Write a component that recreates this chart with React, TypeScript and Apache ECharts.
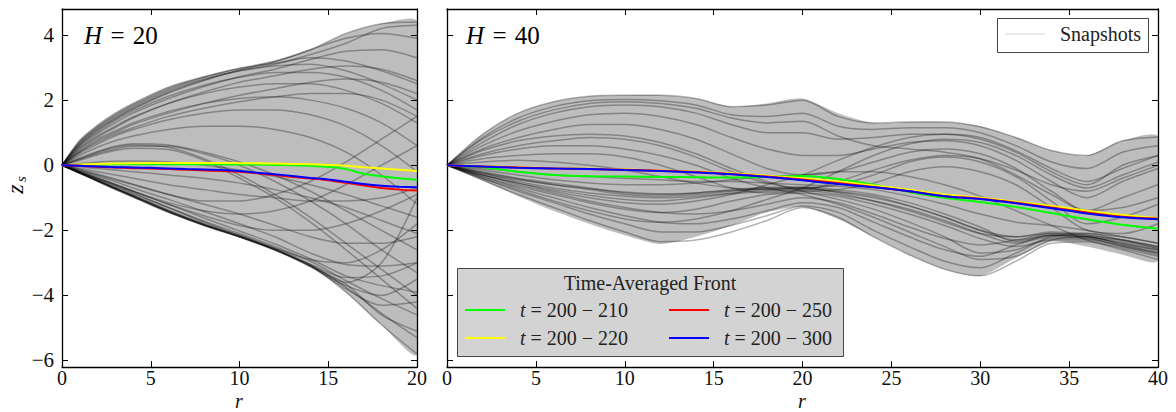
import React, { useEffect, useRef } from 'react';
import * as echarts from 'echarts';

// ---------- data ----------
const R_LEFT_SNAP = [0, 1, 2, 3, 4, 6, 8, 10, 12, 14, 16, 18, 20];
const SNAP_LEFT: number[][] = [
  [0, 0.77, 1.23, 1.6, 1.9, 2.4, 2.72, 2.97, 3.13, 3.3, 3.2, 2.9, 2.5],
  [0, 0.72, 1.18, 1.55, 1.85, 2.35, 2.7, 2.98, 3.2, 3.55, 4.05, 4.35, 4.4],
  [0, 0.7, 1.15, 1.5, 1.8, 2.3, 2.65, 2.9, 3.05, 3.1, 2.9, 2.5, 2.0],
  [0, 0.62, 1.02, 1.37, 1.66, 2.12, 2.46, 2.7, 2.85, 2.85, 2.7, 2.3, 1.7],
  [0, 0.53, 0.9, 1.2, 1.48, 1.9, 2.2, 2.4, 2.5, 2.5, 2.3, 1.9, 1.3],
  [0, 0.45, 0.8, 1.05, 1.3, 1.65, 1.9, 2.05, 2.1, 2.0, 1.75, 1.3, 0.6],
  [0, 0.36, 0.65, 0.9, 1.1, 1.4, 1.6, 1.7, 1.7, 1.55, 1.2, 0.6, -0.2],
  [0, 0.3, 0.55, 0.75, 0.9, 1.1, 1.2, 1.2, 1.1, 0.85, 0.4, -0.3, -1.2],
  [0, 0.62, 1.07, 1.42, 1.72, 2.22, 2.6, 2.93, 3.18, 3.55, 3.9, 4.05, 3.9],
  [0, 0.57, 0.97, 1.3, 1.6, 2.05, 2.42, 2.72, 2.95, 3.25, 3.5, 3.55, 3.3],
  [0, 0.5, 0.86, 1.16, 1.45, 1.9, 2.25, 2.55, 2.75, 2.95, 3.05, 2.95, 2.6],
  [0, 0.42, 0.75, 1.0, 1.25, 1.6, 1.9, 2.15, 2.35, 2.55, 2.65, 2.55, 2.2],
  [0, 0.66, 1.1, 1.45, 1.75, 2.25, 2.62, 2.9, 3.1, 3.4, 3.75, 4.2, 4.3],
  [0, 0.4, 0.7, 0.95, 1.15, 1.5, 1.75, 1.95, 2.1, 2.2, 2.2, 2.0, 1.5],
  [0, 0.2, 0.4, 0.55, 0.62, 0.55, 0.2, -0.3, -0.9, -1.6, -2.4, -3.2, -4.0],
  [0, 0.15, 0.32, 0.45, 0.52, 0.48, 0.15, -0.4, -1.0, -1.75, -2.6, -3.5, -4.4],
  [0, 0.18, 0.36, 0.5, 0.58, 0.58, 0.35, 0, -0.5, -1.1, -1.8, -2.6, -3.3],
  [0, 0.22, 0.42, 0.58, 0.66, 0.62, 0.4, 0.1, -0.3, -0.8, -1.4, -2.0, -2.6],
  [0, 0.05, 0.1, 0.12, 0.13, 0.1, 0, -0.15, -0.35, -0.6, -0.9, -1.25, -1.6],
  [0, -0.05, -0.1, -0.15, -0.2, -0.3, -0.4, -0.55, -0.75, -1.0, -1.3, -1.7, -2.1],
  [0, -0.25, -0.5, -0.75, -0.98, -1.45, -1.85, -2.2, -2.6, -3.1, -3.9, -4.9, -5.8],
  [0, -0.23, -0.46, -0.7, -0.92, -1.38, -1.8, -2.15, -2.55, -3.05, -3.75, -4.55, -5.3],
  [0, -0.21, -0.42, -0.63, -0.85, -1.3, -1.72, -2.1, -2.5, -2.95, -3.55, -4.1, -4.6],
  [0, -0.19, -0.38, -0.58, -0.8, -1.2, -1.62, -2.02, -2.42, -2.88, -3.4, -3.7, -3.9],
  [0, -0.16, -0.33, -0.5, -0.7, -1.05, -1.42, -1.8, -2.2, -2.7, -3.05, -3.1, -3.0],
  [0, -0.13, -0.27, -0.42, -0.58, -0.9, -1.2, -1.5, -1.85, -2.2, -2.4, -2.4, -2.2],
  [0, -0.1, -0.2, -0.3, -0.4, -0.6, -0.75, -0.9, -1.0, -1.1, -1.1, -1.0, -0.7],
  [0, -0.15, -0.3, -0.45, -0.6, -0.9, -1.1, -1.1, -0.9, -0.5, 0.1, 0.8, 1.5],
  [0, -0.2, -0.4, -0.6, -0.8, -1.15, -1.4, -1.5, -1.4, -1.1, -0.6, 0.0, 0.6],
  [0, -0.2, -0.4, -0.6, -0.8, -1.2, -1.55, -1.85, -2.0, -2.0, -1.8, -1.4, -0.9],
  [0, -0.22, -0.44, -0.66, -0.88, -1.3, -1.75, -2.15, -2.55, -2.9, -3.0, -2.6, -1.8],
  [0, -0.24, -0.48, -0.72, -0.95, -1.42, -1.83, -2.2, -2.6, -3.05, -3.45, -3.4, -3.0],
  [0, -0.24, -0.48, -0.72, -0.96, -1.43, -1.84, -2.2, -2.6, -3.1, -3.8, -4.3, -4.2],
  [0, -0.23, -0.46, -0.7, -0.93, -1.4, -1.82, -2.18, -2.58, -3.08, -3.6, -3.0, -1.0],
  [0, -0.245, -0.49, -0.73, -0.97, -1.44, -1.85, -2.21, -2.61, -3.12, -3.7, -4.0, -3.5],
  [0, -0.235, -0.47, -0.71, -0.94, -1.41, -1.82, -2.19, -2.59, -3.1, -3.65, -4.6, -5.1],
];
const ENV_LEFT_UPPER = [0, 0.77, 1.23, 1.6, 1.9, 2.4, 2.72, 2.97, 3.2, 3.55, 4.05, 4.35, 4.4];
const ENV_LEFT_LOWER = [0, -0.25, -0.5, -0.75, -0.98, -1.45, -1.85, -2.2, -2.6, -3.1, -3.9, -4.9, -5.8];

const R_RIGHT_SNAP = [0, 2, 4, 6, 8, 10, 12, 14, 16, 18, 20, 22, 24, 26, 28, 30, 32, 34, 36, 38, 40];
const SNAP_RIGHT: number[][] = [
  [0, 0.95, 1.6, 1.95, 2.12, 2.15, 2.15, 2.05, 1.8, 1.85, 2.0, 1.5, 1.3, 1.33, 1.33, 1.18, 0.85, 0.45, 0.3, 0.75, 0.87],
  [0, 0.85, 1.45, 1.8, 1.98, 2.02, 1.98, 1.85, 1.55, 1.5, 1.6, 1.2, 1.1, 1.15, 1.15, 1.0, 0.6, 0.1, -0.1, 0.4, 0.6],
  [0, 0.7, 1.25, 1.6, 1.8, 1.85, 1.8, 1.6, 1.25, 1.0, 1.0, 0.8, 0.85, 0.95, 0.95, 0.8, 0.4, -0.2, -0.6, 0.0, 0.3],
  [0, 0.6, 1.05, 1.35, 1.55, 1.6, 1.5, 1.25, 0.85, 0.5, 0.3, 0.3, 0.5, 0.7, 0.75, 0.6, 0.15, -0.5, -1.0, -0.5, -0.1],
  [0, 0.5, 0.85, 1.1, 1.25, 1.25, 1.1, 0.8, 0.35, -0.1, -0.3, -0.2, 0.1, 0.4, 0.5, 0.35, -0.1, -0.8, -1.4, -1.0, -0.6],
  [0, 0.35, 0.6, 0.75, 0.85, 0.8, 0.6, 0.25, -0.2, -0.55, -0.7, -0.6, -0.3, 0.1, 0.25, 0.1, -0.35, -1.1, -1.8, -1.6, -1.2],
  [0, 0.2, 0.3, 0.35, 0.35, 0.25, 0.0, -0.35, -0.7, -0.85, -0.8, -0.75, -0.55, -0.2, -0.05, -0.2, -0.6, -1.3, -2.0, -2.1, -1.8],
  [0, -0.45, -0.9, -1.3, -1.7, -2.05, -2.35, -2.3, -2.05, -1.7, -1.3, -1.6, -2.2, -2.75, -3.2, -3.4, -2.95, -2.4, -2.35, -2.6, -2.9],
  [0, -0.4, -0.8, -1.15, -1.5, -1.8, -2.05, -2.05, -1.85, -1.55, -1.25, -1.45, -2.0, -2.5, -2.95, -3.15, -2.7, -2.25, -2.25, -2.5, -2.75],
  [0, -0.35, -0.7, -1.0, -1.3, -1.55, -1.75, -1.8, -1.65, -1.4, -1.15, -1.3, -1.75, -2.2, -2.6, -2.8, -2.45, -2.15, -2.2, -2.4, -2.6],
  [0, -0.3, -0.6, -0.85, -1.1, -1.3, -1.45, -1.5, -1.4, -1.2, -1.0, -1.15, -1.5, -1.9, -2.25, -2.45, -2.3, -2.1, -2.15, -2.3, -2.5],
  [0, -0.25, -0.5, -0.7, -0.85, -0.95, -1.0, -0.95, -0.85, -0.75, -0.7, -0.85, -1.1, -1.4, -1.75, -2.1, -2.2, -2.05, -2.1, -2.2, -2.4],
  [0, -0.2, -0.4, -0.55, -0.7, -0.85, -0.9, -0.85, -0.75, -0.68, -0.67, -0.75, -0.9, -1.15, -1.5, -1.9, -2.35, -2.15, -2.2, -2.35, -2.55],
  [0, -0.22, -0.42, -0.6, -0.75, -0.9, -0.95, -0.9, -0.8, -0.7, -0.7, -0.8, -0.95, -1.25, -1.6, -2.0, -2.2, -2.1, -2.15, -2.3, -2.5],
  [0, -0.1, -0.2, -0.3, -0.35, -0.4, -0.45, -0.5, -0.5, -0.55, -0.6, -0.65, -0.75, -0.95, -1.2, -1.5, -1.75, -1.85, -2.0, -2.2, -2.4],
  [0, -0.3, -0.55, -0.8, -1.0, -1.15, -1.2, -1.1, -0.9, -0.6, -0.3, 0.15, 0.55, 0.85, 0.95, 0.85, 0.45, -0.1, -0.5, -0.1, 0.3],
  [0, -0.4, -0.75, -1.1, -1.4, -1.65, -1.75, -1.65, -1.4, -1.05, -0.7, -0.2, 0.3, 0.65, 0.8, 0.7, 0.3, -0.3, -0.7, -0.3, 0.1],
  [0, 0.3, 0.5, 0.6, 0.6, 0.5, 0.3, 0.0, -0.4, -0.7, -0.9, -1.2, -1.6, -2.05, -2.5, -2.9, -2.8, -2.3, -2.2, -2.45, -2.7],
  [0, 0.45, 0.75, 0.9, 0.95, 0.9, 0.7, 0.35, -0.1, -0.5, -0.8, -1.05, -1.35, -1.75, -2.2, -2.7, -2.6, -2.2, -2.1, -2.3, -2.55],
  [0, 0.8, 1.35, 1.7, 1.9, 1.95, 1.9, 1.75, 1.45, 1.3, 1.35, 0.9, 0.6, 0.5, 0.4, 0.2, -0.3, -0.9, -1.4, -1.3, -1.0],
  [0, -0.15, -0.3, -0.45, -0.55, -0.6, -0.6, -0.55, -0.45, -0.35, -0.3, -0.2, -0.2, -0.35, -0.6, -0.95, -1.4, -1.85, -2.3, -2.55, -2.8],
  [0, 0.1, 0.15, 0.1, 0.0, -0.15, -0.35, -0.55, -0.7, -0.75, -0.75, -0.5, -0.15, 0.15, 0.3, 0.2, -0.15, -0.6, -0.8, -0.4, 0.0],
  [0, -0.25, -0.45, -0.6, -0.72, -0.82, -0.88, -0.85, -0.78, -0.72, -0.72, -0.82, -1.0, -1.25, -1.6, -2.0, -2.3, -2.15, -2.2, -2.4, -2.6],
  [0, -0.3, -0.55, -0.75, -0.92, -1.05, -1.1, -1.0, -0.88, -0.8, -0.78, -0.9, -1.1, -1.35, -1.7, -2.1, -2.4, -2.2, -2.25, -2.45, -2.65],
  [0, -0.35, -0.65, -0.9, -1.15, -1.35, -1.45, -1.35, -1.1, -0.9, -0.85, -0.95, -1.2, -1.5, -1.85, -2.25, -2.5, -2.3, -2.3, -2.5, -2.7],
];
const ENV_RIGHT_UPPER = [0, 0.95, 1.6, 1.95, 2.12, 2.15, 2.15, 2.05, 1.8, 1.9, 2.05, 1.6, 1.3, 1.33, 1.33, 1.2, 0.85, 0.45, 0.3, 0.75, 0.87];
const ENV_RIGHT_LOWER = [0, -0.48, -0.95, -1.4, -1.8, -2.15, -2.42, -2.2, -1.85, -1.45, -1.28, -1.65, -2.2, -2.75, -3.2, -3.4, -2.85, -2.35, -2.5, -2.75, -2.92];

const R_LEFT_MEAN = [0, 1, 2, 3, 4, 5, 6, 7, 8, 9, 10, 11, 12, 13, 14, 15, 16, 17, 18, 19, 20];
const LEFT_GREEN = [0, 0.01, 0.02, 0.03, 0.03, 0.03, 0.03, 0.03, 0.03, 0.03, 0.02, 0.02, 0.01, 0.0, -0.02, -0.05, -0.12, -0.26, -0.34, -0.4, -0.45];
const LEFT_YELLOW = [0, 0.02, 0.04, 0.05, 0.06, 0.07, 0.07, 0.07, 0.07, 0.07, 0.06, 0.06, 0.05, 0.04, 0.03, 0.01, -0.02, -0.06, -0.1, -0.14, -0.18];
const LEFT_RED = [0, -0.02, -0.05, -0.07, -0.09, -0.1, -0.12, -0.14, -0.16, -0.18, -0.2, -0.25, -0.3, -0.36, -0.41, -0.46, -0.54, -0.62, -0.7, -0.75, -0.78];
const LEFT_BLUE = [0, -0.02, -0.04, -0.06, -0.07, -0.08, -0.1, -0.12, -0.13, -0.15, -0.18, -0.23, -0.28, -0.33, -0.39, -0.44, -0.51, -0.58, -0.63, -0.66, -0.68];

const R_RIGHT_MEAN = [0, 2, 4, 6, 8, 10, 12, 14, 16, 18, 20, 22, 24, 26, 28, 30, 32, 34, 36, 38, 40];
const RIGHT_GREEN = [0, -0.06, -0.2, -0.3, -0.34, -0.35, -0.36, -0.37, -0.38, -0.36, -0.33, -0.42, -0.6, -0.82, -1.0, -1.13, -1.28, -1.47, -1.66, -1.83, -1.95];
const RIGHT_YELLOW = [0, -0.03, -0.06, -0.09, -0.11, -0.13, -0.16, -0.2, -0.25, -0.32, -0.4, -0.5, -0.62, -0.75, -0.9, -1.0, -1.12, -1.25, -1.4, -1.53, -1.63];
const RIGHT_RED = [0, -0.04, -0.07, -0.1, -0.12, -0.14, -0.17, -0.21, -0.27, -0.35, -0.44, -0.55, -0.67, -0.8, -0.95, -1.03, -1.15, -1.3, -1.45, -1.58, -1.64];
const RIGHT_BLUE = [0, -0.04, -0.08, -0.1, -0.12, -0.15, -0.18, -0.22, -0.28, -0.36, -0.46, -0.58, -0.68, -0.8, -0.95, -1.04, -1.17, -1.32, -1.48, -1.6, -1.66];

const MEAN_NAMES = ['t = 200 − 210', 't = 200 − 220', 't = 200 − 250', 't = 200 − 300'];
const MEAN_COLORS = ['#00ff00', '#ffff00', '#ff0000', '#0000ff'];
const PANEL_TITLES = ['20', '40'];
const X_NAME = 'r';

// ---------- helpers ----------
const FONT = "'Liberation Serif', 'DejaVu Serif', serif";
const pairs = (xs: number[], ys: number[]) => xs.map((x, i) => [x, ys[i]]);
const minus = (v: number) => (v < 0 ? '\u2212' + Math.abs(v) : String(v));

function bandSeries(ax: number, r: number[], up: number[], lo: number[]) {
  return {
    type: 'custom', xAxisIndex: ax, yAxisIndex: ax, silent: true, z: 1, clip: true,
    data: [[r[0], up[0]]],
    renderItem: (_params: any, api: any) => {
      const top = r.map((x, i) => api.coord([x, up[i]]));
      const bot = r.map((x, i) => api.coord([x, lo[i]])).reverse();
      return {
        type: 'polygon',
        shape: { points: top.concat(bot), smooth: 0.25 },
        style: { fill: 'rgba(0,0,0,0.26)', stroke: 'none' },
      };
    },
  };
}

function buildOption() {
  const series: any[] = [];
  const panels = [
    { ax: 0, r: R_LEFT_SNAP, snaps: SNAP_LEFT, up: ENV_LEFT_UPPER, lo: ENV_LEFT_LOWER, rm: R_LEFT_MEAN, means: [LEFT_GREEN, LEFT_YELLOW, LEFT_RED, LEFT_BLUE] },
    { ax: 2, r: R_RIGHT_SNAP, snaps: SNAP_RIGHT, up: ENV_RIGHT_UPPER, lo: ENV_RIGHT_LOWER, rm: R_RIGHT_MEAN, means: [RIGHT_GREEN, RIGHT_YELLOW, RIGHT_RED, RIGHT_BLUE] },
  ];
  panels.forEach((p) => {
    series.push(bandSeries(p.ax, p.r, p.up, p.lo));
    p.snaps.forEach((s) => {
      series.push({
        type: 'line', name: 'Snapshots', xAxisIndex: p.ax, yAxisIndex: p.ax,
        data: pairs(p.r, s), symbol: 'none', smooth: 0.3, silent: true,
        lineStyle: { color: '#000', width: 1.5, opacity: 0.3 }, itemStyle: { color: '#000' }, z: 2,
      });
    });
    p.means.forEach((m, mi) => {
      series.push({
        type: 'line', name: MEAN_NAMES[mi], xAxisIndex: p.ax, yAxisIndex: p.ax,
        data: pairs(p.rm, m), symbol: 'none', smooth: 0.3,
        lineStyle: { color: MEAN_COLORS[mi], width: 2 }, itemStyle: { color: MEAN_COLORS[mi] }, z: 5,
      });
    });
  });

  const axisLine = { show: true, onZero: false, lineStyle: { color: '#000', width: 1.3 } };
  const tick = { show: true, inside: true, length: 6, lineStyle: { color: '#000', width: 1 } };
  const xLabel = { show: true, fontFamily: FONT, fontSize: 20, color: '#111', margin: 1, formatter: (v: number) => minus(v) };
  const mkX = (gi: number, max: number, pos: 'top' | 'bottom', label: boolean) => ({
    type: 'value', gridIndex: gi, min: 0, max, interval: 5, position: pos,
    axisLine, axisTick: tick, splitLine: { show: false },
    axisLabel: label ? xLabel : { show: false },
  });
  const mkY = (gi: number, pos: 'left' | 'right', label: boolean) => ({
    type: 'value', gridIndex: gi, min: -6.2, max: 4.8, splitNumber: 5, position: pos,
    axisLine, axisTick: tick, splitLine: { show: false },
    axisLabel: label
      ? { show: true, fontFamily: FONT, fontSize: 21, color: '#111', margin: 8, showMinLabel: false, showMaxLabel: false,
          formatter: (v: number) => (Math.abs(v - Math.round(v)) < 1e-6 ? minus(Math.round(v)) : '') }
      : { show: false },
  });

  const legendText = {
    fontFamily: FONT, fontSize: 20, color: '#222',
    rich: { i: { fontFamily: FONT, fontSize: 20, fontStyle: 'italic', color: '#222' } },
  };
  const itemLegend = (name: string, color: string, left: number, top: number) => ({
    show: true, left, top, padding: 0, icon: 'rect', itemWidth: 40, itemHeight: 2.2,
    data: [{ name, itemStyle: { color } }], selectedMode: false,
    formatter: (n: string) => '  {i|t}' + n.slice(1), textStyle: legendText, z: 20,
  });

  const titleText = (x: number, t: string) => ({
    type: 'text', z: 16, x, y: 35,
    style: {
      text: '{i|H}\u2004=\u2004' + t, font: `25px ${FONT}`, fill: '#000', align: 'left', verticalAlign: 'middle',
      rich: { i: { fontStyle: 'italic', fontSize: 25, fontFamily: FONT } },
    },
  });
  const xName = (x: number) => ({
    type: 'text', z: 16, x, y: 400.5,
    style: { text: X_NAME, font: `italic 20px ${FONT}`, fill: '#111', align: 'center', verticalAlign: 'middle' },
  });

  return {
    animation: false,
    backgroundColor: '#fff',
    grid: [
      { left: 62, top: 9, width: 355, height: 358, outerBoundsMode: 'none', containLabel: false },
      { left: 447, top: 9, width: 711, height: 358, outerBoundsMode: 'none', containLabel: false },
    ],
    xAxis: [mkX(0, 20, 'bottom', true), mkX(0, 20, 'top', false), mkX(1, 40, 'bottom', true), mkX(1, 40, 'top', false)],
    yAxis: [mkY(0, 'left', true), mkY(0, 'right', false), mkY(1, 'left', false), mkY(1, 'right', false)],
    legend: [
      {
        show: true, left: 1005, top: 24, padding: 0, icon: 'rect', itemWidth: 40, itemHeight: 1,
        data: [{ name: 'Snapshots', itemStyle: { color: '#d8d8d8' } }], selectedMode: false,
        formatter: (n: string) => '  ' + n, textStyle: { fontFamily: FONT, fontSize: 20, color: '#222' }, z: 20,
      },
      itemLegend(MEAN_NAMES[0], MEAN_COLORS[0], 465, 300),
      itemLegend(MEAN_NAMES[1], MEAN_COLORS[1], 465, 328),
      itemLegend(MEAN_NAMES[2], MEAN_COLORS[2], 669, 300),
      itemLegend(MEAN_NAMES[3], MEAN_COLORS[3], 669, 328),
    ],
    graphic: [
      { type: 'rect', z: 15, shape: { x: 997.5, y: 18.5, width: 151, height: 34 }, style: { fill: '#fff', stroke: '#444', lineWidth: 1 } },
      { type: 'rect', z: 15, shape: { x: 457.5, y: 268.5, width: 386, height: 88 }, style: { fill: '#d3d3d3', stroke: '#444', lineWidth: 1 } },
      { type: 'text', z: 16, x: 650, y: 283, style: { text: 'Time-Averaged Front', font: `20px ${FONT}`, fill: '#222', align: 'center', verticalAlign: 'middle' } },
      titleText(84, PANEL_TITLES[0]),
      titleText(466, PANEL_TITLES[1]),
      xName(239),
      xName(802),
      {
        type: 'group', x: 15, y: 185, rotation: Math.PI / 2, z: 16,
        children: [
          { type: 'text', x: -4, y: 0, style: { text: 'z', font: `italic 24px ${FONT}`, fill: '#111', align: 'center', verticalAlign: 'middle' } },
          { type: 'text', x: 6, y: 6, style: { text: 's', font: `italic 15px ${FONT}`, fill: '#111', align: 'center', verticalAlign: 'middle' } },
        ],
      },
    ],
    series,
  };
}

export default function App() {
  const ref = useRef<HTMLDivElement>(null);
  useEffect(() => {
    if (!ref.current) return;
    const chart = echarts.init(ref.current, undefined, { renderer: 'svg' });
    chart.setOption(buildOption() as any);
    return () => chart.dispose();
  }, []);
  return <div ref={ref} style={{ position: 'fixed', left: 0, top: 0, width: 1176, height: 412, background: '#fff' }} />;
}
